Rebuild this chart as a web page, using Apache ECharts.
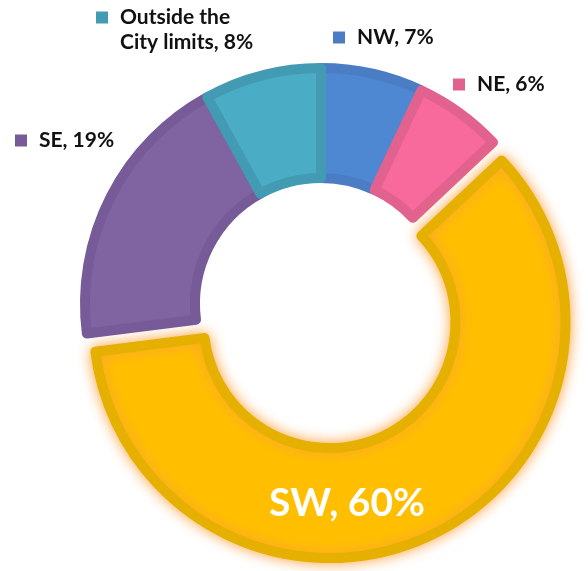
<!DOCTYPE html>
<html>
<head>
<meta charset="utf-8">
<style>
  html, body { margin: 0; padding: 0; background: #fff; }
  #main { width: 588px; height: 571px; }
</style>
<script src="https://cdn.jsdelivr.net/npm/echarts@6/dist/echarts.min.js"></script>
</head>
<body>
<div id="main"></div>
<script>
const regions = ['NW', 'NE', 'SW', 'SE', 'Outside the\nCity limits'];
const shares = [7, 6, 60, 19, 8];
const fillColors = ['#4F88D2', '#F76A9B', '#FFBF00', '#8064A2', '#4BACC6'];
const edgeColors = ['#4A7DC3', '#E2628F', '#E6B000', '#765B98', '#439BB3'];

// left/top of each label block (SW is centred inside its slice)
const labelSpots = [[333, 25], [453, 72], [347, 503], [15, 128], [96, 5]];
const BIG = 2;

const chart = echarts.init(document.getElementById('main'));

const rich = {
  gap: { width: 12, height: 12 },
  t: { fontSize: 21, fontWeight: 'bold', color: '#111', fontFamily: 'Lato', lineHeight: 25, padding: [0, 0, 0, 12] },
  big: { fontSize: 39, fontWeight: 'bold', color: '#fff', fontFamily: 'Lato' }
};
edgeColors.forEach((c, i) => {
  rich['m' + i] = { width: 12, height: 12, backgroundColor: c };
});

function labelText(p) {
  const txt = `${p.name}, ${p.value}%`;
  if (p.dataIndex === BIG) return `{big|${txt}}`;
  return txt.split('\n')
    .map((line, k) => (k === 0 ? `{m${p.dataIndex}|}` : '{gap|}') + `{t|${line}}`)
    .join('\n');
}

function placeLabel(p) {
  const s = labelSpots[p.dataIndex];
  if (p.dataIndex === BIG) {
    return { x: s[0], y: s[1], align: 'center', verticalAlign: 'middle' };
  }
  return { x: s[0], y: s[1], align: 'left', verticalAlign: 'top' };
}

const slices = regions.map((name, i) => {
  const item = {
    name: name,
    value: shares[i],
    itemStyle: { color: fillColors[i], borderColor: edgeColors[i] }
  };
  if (i === BIG) {
    item.selected = true;
    item.itemStyle.shadowBlur = 14;
    item.itemStyle.shadowColor = 'rgba(250, 160, 60, 0.85)';
    item.select = { itemStyle: { color: fillColors[i], borderColor: edgeColors[i] } };
    item.label = { show: false };
  }
  return item;
});

// the exploded slice's label can't be moved while selected, so it rides on a bare copy
const bigLabel = regions.map((name, i) => ({
  name: name,
  value: shares[i],
  label: { show: i === BIG }
}));

const common = {
  type: 'pie',
  center: [321, 304],
  radius: [126, 236],
  startAngle: 90,
  clockwise: true,
  avoidLabelOverlap: false,
  emphasis: { disabled: true },
  labelLine: { show: false },
  labelLayout: placeLabel
};

chart.setOption({
  animation: false,
  series: [
    Object.assign({}, common, {
      selectedMode: 'single',
      selectedOffset: 20,
      itemStyle: { borderWidth: 10 },
      label: { show: true, position: 'outside', formatter: labelText, rich: rich },
      data: slices
    }),
    Object.assign({}, common, {
      silent: true,
      z: 3,
      itemStyle: { color: 'rgba(0,0,0,0)', borderWidth: 0 },
      label: { position: 'outside', formatter: labelText, rich: rich },
      data: bigLabel
    })
  ]
});
</script>
</body>
</html>
